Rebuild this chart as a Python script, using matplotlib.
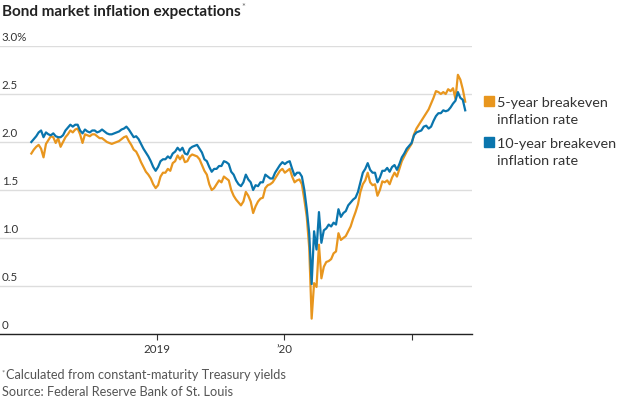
import matplotlib
matplotlib.use("Agg")
import matplotlib.pyplot as plt
import matplotlib.transforms as mtransforms
import pandas as pd

plt.rcParams['font.family'] = ['Lato', 'DejaVu Sans']

# weekly readings (Fridays), Jan 2018 - Jun 2021
dates = pd.date_range('2018-01-05', periods=179, freq='W-FRI')

ten_year = [
    # 2018
    2.00, 2.03, 2.06, 2.10, 2.12, 2.05, 2.10, 2.08, 2.07, 2.09, 2.06, 2.05, 2.05,
    2.07, 2.12, 2.15, 2.18, 2.16, 2.18, 2.18, 2.12, 2.09, 2.13, 2.11, 2.10, 2.12,
    2.12, 2.10, 2.11, 2.13, 2.11, 2.09, 2.08, 2.08, 2.09, 2.10, 2.11, 2.13, 2.14,
    2.16, 2.13, 2.09, 2.05, 2.06, 2.03, 1.98, 1.93, 1.89, 1.85, 1.80, 1.74, 1.70,
    # 2019
    1.74, 1.80, 1.82, 1.82, 1.85, 1.83, 1.88, 1.90, 1.94, 1.91, 1.94, 1.88, 1.87,
    1.93, 1.95, 1.96, 1.97, 1.93, 1.89, 1.82, 1.80, 1.74, 1.69, 1.72, 1.72, 1.75,
    1.75, 1.80, 1.79, 1.77, 1.69, 1.66, 1.60, 1.56, 1.54, 1.58, 1.66, 1.61, 1.58,
    1.50, 1.55, 1.54, 1.58, 1.58, 1.66, 1.64, 1.62, 1.62, 1.68, 1.72, 1.76, 1.79,
    # 2020
    1.77, 1.79, 1.80, 1.72, 1.65, 1.68, 1.68, 1.64, 1.50, 1.30, 1.05, 0.52, 1.07,
    0.88, 1.27, 0.95, 1.08, 1.10, 1.14, 1.12, 1.16, 1.14, 1.30, 1.22, 1.26, 1.28,
    1.34, 1.37, 1.40, 1.42, 1.48, 1.58, 1.68, 1.72, 1.78, 1.71, 1.68, 1.68, 1.58,
    1.63, 1.70, 1.70, 1.73, 1.69, 1.74, 1.76, 1.71, 1.77, 1.84, 1.88, 1.93, 1.96,
    # 2021
    1.99, 2.07, 2.10, 2.11, 2.12, 2.16, 2.17, 2.14, 2.16, 2.22, 2.27, 2.30, 2.30,
    2.33, 2.32, 2.33, 2.36, 2.40, 2.43, 2.52, 2.46, 2.44, 2.33,
]

five_year = [
    # 2018
    1.88, 1.92, 1.95, 1.97, 1.93, 1.84, 1.98, 2.02, 2.06, 2.05, 1.99, 2.04, 1.95,
    2.00, 2.05, 2.08, 2.12, 2.10, 2.13, 2.14, 2.08, 1.99, 2.08, 2.07, 2.06, 2.08,
    2.08, 2.06, 2.04, 2.04, 2.02, 2.00, 1.99, 1.98, 1.99, 2.00, 2.01, 2.03, 2.05,
    2.06, 2.01, 1.97, 1.92, 1.90, 1.85, 1.79, 1.74, 1.69, 1.66, 1.62, 1.56, 1.52,
    # 2019
    1.55, 1.64, 1.68, 1.68, 1.72, 1.70, 1.78, 1.80, 1.86, 1.82, 1.86, 1.79, 1.80,
    1.85, 1.87, 1.86, 1.85, 1.82, 1.76, 1.70, 1.66, 1.56, 1.50, 1.52, 1.56, 1.60,
    1.58, 1.64, 1.62, 1.60, 1.50, 1.44, 1.40, 1.37, 1.34, 1.38, 1.48, 1.44, 1.38,
    1.26, 1.33, 1.38, 1.41, 1.42, 1.52, 1.55, 1.56, 1.58, 1.62, 1.66, 1.70, 1.72,
    # 2020
    1.68, 1.70, 1.72, 1.64, 1.58, 1.60, 1.61, 1.56, 1.40, 1.22, 0.90, 0.16, 0.53,
    0.49, 0.93, 0.58, 0.70, 0.75, 0.76, 0.78, 0.84, 0.86, 1.05, 0.98, 1.00, 1.02,
    1.07, 1.12, 1.20, 1.27, 1.35, 1.48, 1.56, 1.60, 1.68, 1.58, 1.55, 1.56, 1.44,
    1.50, 1.59, 1.58, 1.60, 1.56, 1.63, 1.68, 1.64, 1.72, 1.80, 1.85, 1.90, 1.94,
    # 2021
    1.98, 2.08, 2.14, 2.18, 2.22, 2.26, 2.30, 2.34, 2.40, 2.46, 2.53, 2.52, 2.50,
    2.52, 2.50, 2.55, 2.53, 2.56, 2.45, 2.70, 2.65, 2.55, 2.42,
]

y_ticks = [0, 0.5, 1.0, 1.5, 2.0, 2.5, 3.0]
y_labels = ['0', '0.5', '1.0', '1.5', '2.0', '2.5', '3.0%']
x_ticks = ['2019-01-01', '2020-01-01', '2021-01-01']
x_labels = ['2019', '\u201920', '']
series_names = [['5-year breakeven', 'inflation rate'],
                ['10-year breakeven', 'inflation rate']]

orange = '#e8961e'
blue = '#0a75ad'

fig = plt.figure(figsize=(6.2, 4), dpi=100)
ax = fig.add_axes([0.0, 0.165, 0.761, 0.72])

ax.plot(dates, five_year, color=orange, lw=1.6, zorder=3)
ax.plot(dates, ten_year, color=blue, lw=1.6, zorder=4)

ax.set_ylim(0, 3.0)
ax.set_xlim(pd.Timestamp('2017-10-07'), pd.Timestamp('2021-06-23'))

# horizontal gridlines, labels drawn as text above the lines
ax.set_yticks(y_ticks)
ax.yaxis.grid(True, color='#dddddd', lw=1)
ax.tick_params(axis='y', length=0, labelleft=False)
trans = mtransforms.blended_transform_factory(ax.transAxes, ax.transData)
for v, lab in zip(y_ticks, y_labels):
    ax.text(0.004, v + 0.03, lab, transform=trans, ha='left', va='bottom',
            fontsize=8.3, color='#333333')

ax.set_xticks([pd.Timestamp(d) for d in x_ticks])
ax.set_xticklabels(x_labels)
ax.tick_params(axis='x', length=4, width=0.8, color='#333333', labelsize=8.3,
               labelcolor='#333333', pad=3)

for s in ['left', 'right', 'top']:
    ax.spines[s].set_visible(False)
ax.spines['bottom'].set_color('#222222')
ax.spines['bottom'].set_linewidth(1)
ax.set_axisbelow(True)

# legend: colour square + two text lines per series
legend_rows = [(orange, 96, 103), (blue, 137, 144)]
for (col, sq_top, text_y), lines in zip(legend_rows, series_names):
    fig.patches.append(plt.Rectangle((484 / 620, 1 - (sq_top + 10) / 400), 10 / 620, 10 / 400,
                                     transform=fig.transFigure, color=col))
    for i, line in enumerate(lines):
        fig.text(497 / 620, 1 - (text_y + 17 * i) / 400, line, fontsize=10.4,
                 color='#333333', va='center', ha='left')

# title and notes
title = fig.text(0.003, 1 - 12 / 400, 'Bond market inflation expectations', fontsize=11,
                 fontweight='bold', color='#222222', va='center', ha='left')
fig.canvas.draw()
bb = title.get_window_extent().transformed(fig.transFigure.inverted())
fig.text(bb.x1 + 0.002, 1 - 8 / 400, '*', fontsize=6.5, color='#666666',
         va='center', ha='left')
fig.text(0.003, 1 - 373 / 400, '*', fontsize=5.5, color='#666666', va='center', ha='left')
fig.text(0.009, 1 - 375 / 400, 'Calculated from constant-maturity Treasury yields',
         fontsize=9.2, color='#555555', va='center', ha='left')
fig.text(0.003, 1 - 392 / 400, 'Source: Federal Reserve Bank of St. Louis',
         fontsize=9.2, color='#555555', va='center', ha='left')

fig.savefig('out.png', dpi=100)
